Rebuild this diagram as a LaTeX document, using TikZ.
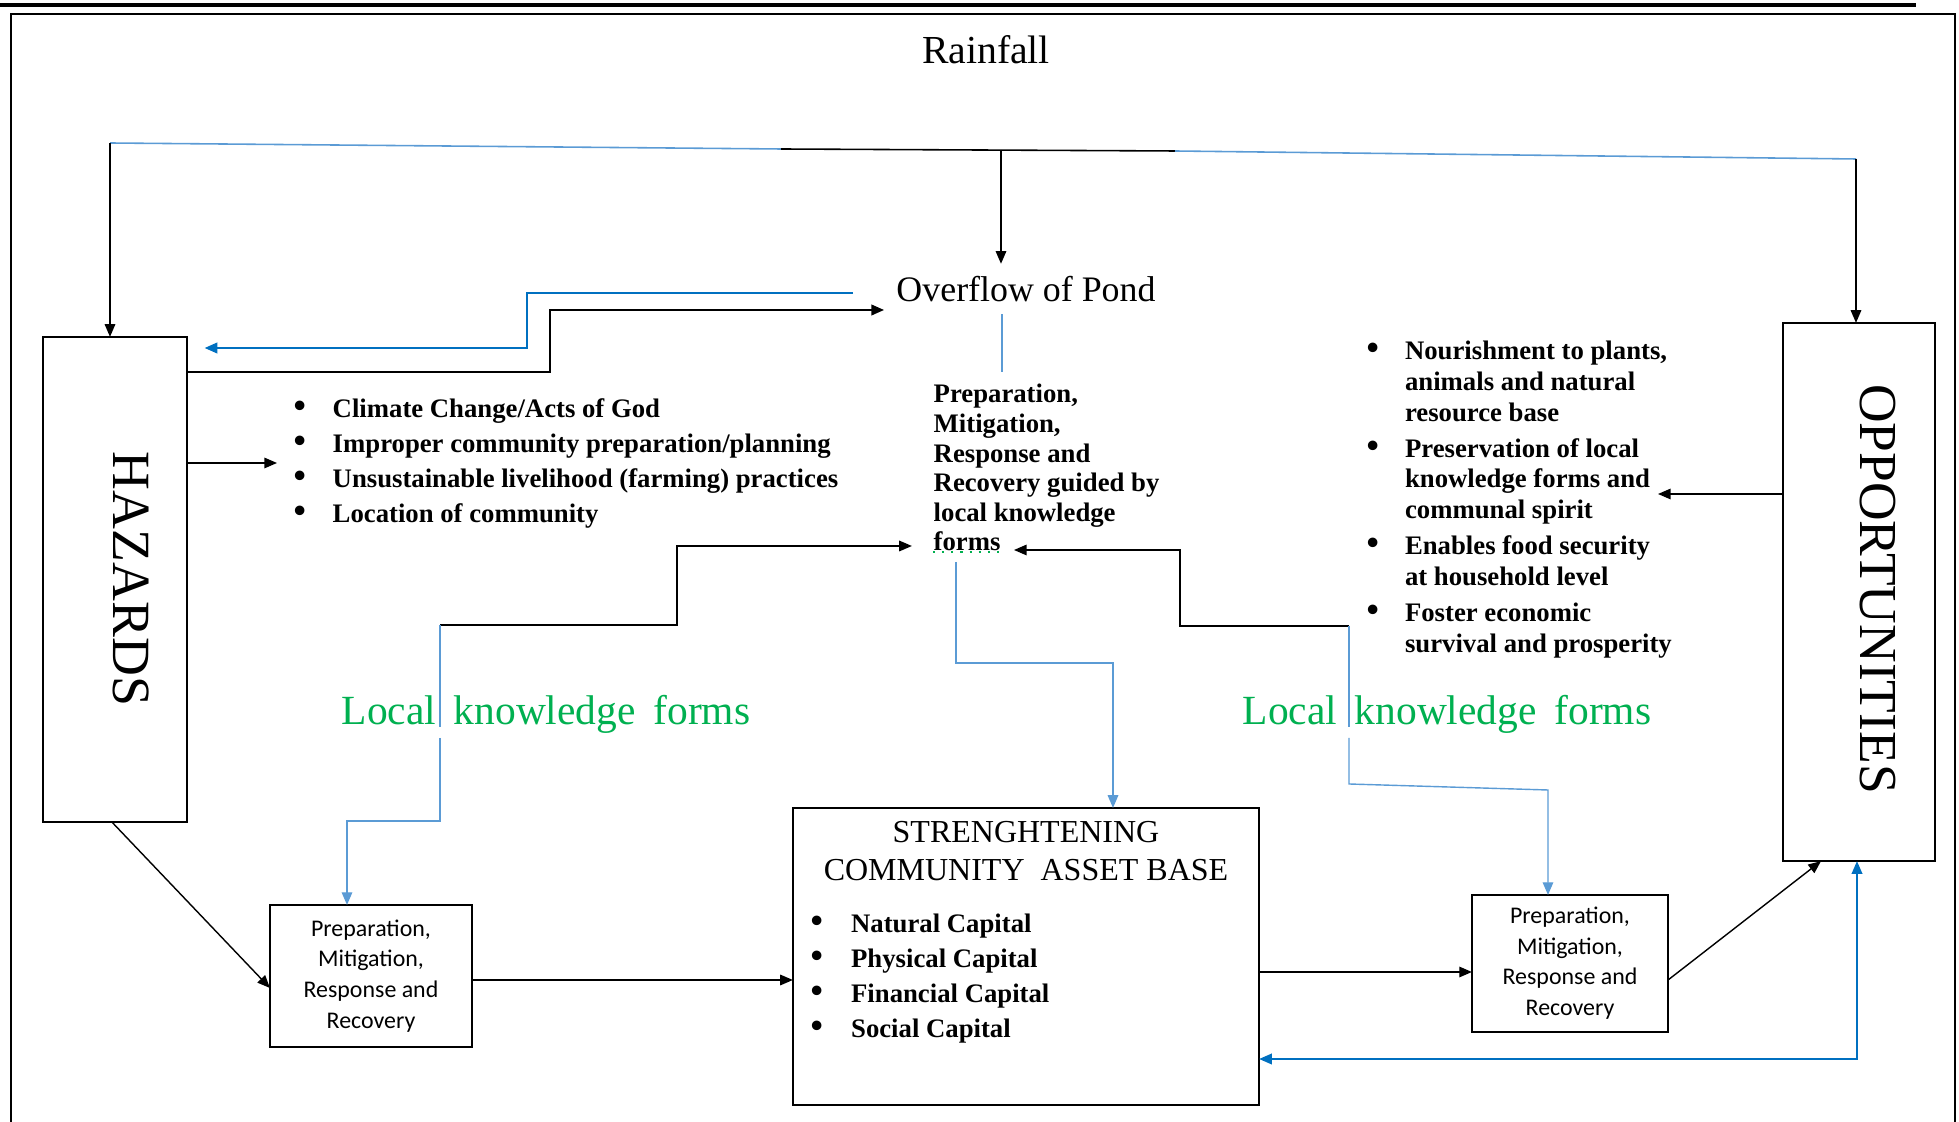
\documentclass[tikz,border=0pt]{standalone}
\usepackage{fontspec}
\setmainfont{Liberation Serif}[BoldFont={Liberation Serif Bold}]
\newfontfamily\boxfont{Carlito}
\newfontfamily\tnrbold{Liberation Serif Bold}
\usetikzlibrary{arrows.meta}
\definecolor{lblue}{RGB}{91,155,213}
\definecolor{dblue}{RGB}{0,112,192}
\definecolor{lkgreen}{RGB}{0,176,80}
\newcommand{\bul}{\raisebox{0.1pt}{\fontsize{10}{9}\selectfont\textbullet}}
\tikzset{
  boxframe/.style={draw, line width=0.45pt, inner sep=0pt, outer sep=0pt},
  tip/.style={-{Triangle[length=3.6pt,width=3pt]}},
  plainline/.style={line width=0.4pt},
  conn/.style={plainline, tip},
  bconn/.style={line width=0.4pt, lblue, tip},
  thickconn/.style={line width=0.6pt, tip},
  listfont/.style={font=\tnrbold\fontsize{7.6}{9.9}\selectfont},
  smalltext/.style={font=\boxfont\fontsize{6.8}{8.7}\selectfont},
  lkf/.style={font=\fontsize{11.8}{13}\selectfont, text=lkgreen, inner sep=0pt, anchor=base},
}
\begin{document}
\begin{tikzpicture}[x=0.01cm, y=-0.01cm]
\useasboundingbox (0,0) rectangle (1959,1122);
\clip (0,0) rectangle (1959,1122);
% frame
\draw[line width=1.1pt] (0,5) -- (1916,5);
\draw[line width=0.7pt] (11,14) rectangle (1955,1160);

% titles
\node[font=\fontsize{11.3}{13}\selectfont] (rain) at (986,50) {Rainfall};
\node[font=\fontsize{10.2}{12}\selectfont] (ovf) at (1026,289) {Overflow of Pond};

% main boxes
\node[boxframe, minimum width=1.44cm, minimum height=4.85cm] (haz) at (115,579.5) {};
\node[rotate=-90, font=\fontsize{15.3}{17}\selectfont] (hazlbl) at (131,579) {HAZARDS};
\node[boxframe, minimum width=1.52cm, minimum height=5.38cm] (opp) at (1859,592) {};
\node[rotate=-90, font=\fontsize{15.2}{17}\selectfont] (opplbl) at (1878,589) {OPPORTUNITIES};

\node[boxframe, minimum width=2.02cm, minimum height=1.42cm, smalltext] (lbox) at (371,976)
  {\begin{tabular}{@{}c@{}}Preparation,\\Mitigation,\\Response and\\Recovery\end{tabular}};
\node[boxframe, minimum width=1.96cm, minimum height=1.37cm, smalltext] (rbox) at (1570,963.5)
  {\begin{tabular}{@{}c@{}}Preparation,\\Mitigation,\\Response and\\Recovery\end{tabular}};
\node[boxframe, minimum width=4.66cm, minimum height=2.97cm] (str) at (1026,956.5) {};
\node[anchor=base, inner sep=0pt, font=\fontsize{9.1}{10.6}\selectfont] (strtitle) at (1026,843)
  {\begin{tabular}[t]{@{}c@{}}STRENGHTENING\\COMMUNITY\ \ ASSET BASE\end{tabular}};
\node[anchor=base west, inner sep=0pt, listfont] (caplist) at (810,933)
  {\begin{tabular}[t]{@{}l@{\hspace{8pt}}l@{}}
   \bul & Natural Capital\\
   \bul & Physical Capital\\
   \bul & Financial Capital\\
   \bul & Social Capital
  \end{tabular}};

% lists
\node[anchor=base west, inner sep=0pt, listfont] (hazlist) at (293,418)
  {\begin{tabular}[t]{@{}l@{\hspace{7.6pt}}l@{}}
   \bul & Climate Change/Acts of God\\
   \bul & Improper community preparation/planning\\
   \bul & Unsustainable livelihood (farming) practices\\
   \bul & Location of community
  \end{tabular}};
\node[anchor=base west, inner sep=0pt, font=\tnrbold\fontsize{7.6}{8.7}\selectfont] (opplist) at (1366,360)
  {\begin{tabular}[t]{@{}l@{\hspace{7.4pt}}l@{}}
   \bul & Nourishment to plants,\\
               & animals and natural\\
               & resource base\\[1.6pt]
   \bul & Preservation of local\\
               & knowledge forms and\\
               & communal spirit\\[1.6pt]
   \bul & Enables food security\\
               & at household level\\[1.6pt]
   \bul & Foster economic\\
               & survival and prosperity
  \end{tabular}};
\node[anchor=base west, inner sep=0pt, font=\tnrbold\fontsize{7.6}{8.4}\selectfont] (plan) at (933,403)
  {\begin{tabular}[t]{@{}l@{}}Preparation,\\Mitigation,\\Response and\\Recovery guided by\\local knowledge\\forms\end{tabular}};
\draw[lkgreen, dotted, line width=0.6pt] (plan.south west |- 0,552) -- (999,552);

% local knowledge labels
\node[lkf] (lkleft) at (546,725) {Local\hspace{5pt}knowledge\hspace{5pt}forms};
\node[lkf] (lkright) at (1447,725) {Local\hspace{5pt}knowledge\hspace{5pt}forms};

% rainfall distribution line
\coordinate (tl) at (110,143);
\coordinate (tm1) at (781,149);
\coordinate (tc) at (1001,150);
\coordinate (tm2) at (1175,151);
\coordinate (tr) at (1856,159);
\draw[lblue, line width=0.45pt] (tl) -- (tm1);
\draw[line width=0.45pt] (tm1) -- (tm2);
\draw[lblue, line width=0.45pt] (tm2) -- (tr);
\draw[conn] (tl) -- (tl |- haz.north);
\draw[conn] (tc) -- (tc |- ovf.north);
\draw[conn] (tr) -- (tr |- opp.north);

% overflow connectors
\draw[thickconn, dblue] (853,293) -- (527,293) -- (527,348) -- (haz.east |- 0,348) [shorten >=5pt];
\draw[thickconn] (haz.east |- 0,372) -- (550,372) -- (550,310) -- (ovf.west |- 0,310);
\draw[lblue, line width=0.4pt] (ovf.south -| 1002,0) -- (1002,372);

% hazards to list, opportunities to list
\coordinate (hazlistin) at (277,463);
\draw[conn] (haz.east |- 0,463) -- (hazlistin);
\coordinate (opplistin) at (1658,494);
\draw[conn] (opp.west |- 0,494) -- (opplistin);

% left local-knowledge connectors
\coordinate (lk1) at (440,625);
\draw[conn] (lk1) -- (677,625) -- (677,546) -- (plan.west |- 0,546) [shorten >=6pt];
\draw[lblue, line width=0.4pt] (lk1) -- (440,727);
\draw[bconn] (440,738) -- (440,821) -- (347,821) -- (lbox.north -| 347,0);

% right local-knowledge connectors
\coordinate (rk1) at (1349,626);
\coordinate (formsend) at (1014,550);
\draw[conn] (rk1) -- (1180,626) -- (1180,550) -- (formsend);
\draw[lblue, line width=0.4pt] (rk1) -- (1349,727);
\draw[bconn] (1349,738) -- (1349,784) -- (1548,790) -- (rbox.north -| 1548,0);

% center blue into asset base
\draw[bconn] (956,562) -- (956,663) -- (1113,663) -- (str.north -| 1113,0);

% bottom flow
\draw[conn] (haz.south -| 112,0) -- (lbox.west |- 0,988);
\draw[conn] (lbox.east |- 0,980) -- (str.west |- 0,980);
\draw[conn] (str.east |- 0,972) -- (rbox.west |- 0,972);
\draw[conn] (rbox.east |- 0,980) -- (opp.south -| 1821,0);
\draw[dblue, line width=0.5pt, {Triangle[length=3.6pt,width=3pt]}-{Triangle[length=3.6pt,width=3pt]}]
  (str.east |- 0,1059) -- (1857,1059) -- (opp.south -| 1857,0);
\end{tikzpicture}
\end{document}
